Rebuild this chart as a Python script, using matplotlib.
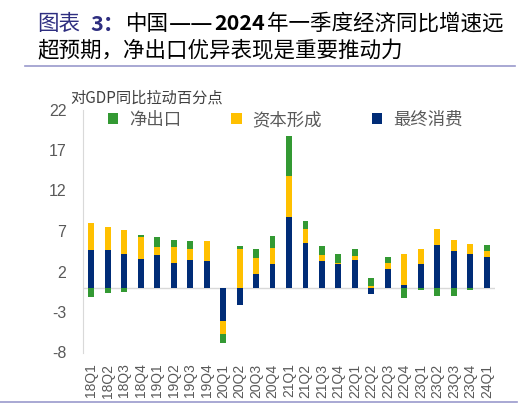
import matplotlib
matplotlib.use("Agg")
import matplotlib.pyplot as plt
from matplotlib.patches import Patch
import numpy as np

plt.rcParams['font.family'] = ['Noto Sans CJK SC', 'DejaVu Sans']

quarters = ['18Q1', '18Q2', '18Q3', '18Q4', '19Q1', '19Q2', '19Q3', '19Q4',
            '20Q1', '20Q2', '20Q3', '20Q4', '21Q1', '21Q2', '21Q3', '21Q4',
            '22Q1', '22Q2', '22Q3', '22Q4', '23Q1', '23Q2', '23Q3', '23Q4', '24Q1']
consumption = [4.65, 4.65, 4.2, 3.6, 4.07, 3.06, 3.4, 3.3,
               -4.07, -2.1, 1.64, 2.88, 8.73, 5.47, 3.29, 2.9,
               3.37, -0.8, 2.35, 0.33, 2.96, 5.3, 4.57, 4.1, 3.83]
capital = [3.33, 2.84, 2.96, 2.7, 0.95, 1.98, 1.36, 2.47,
           -1.6, 4.8, 2.0, 2.0, 5.1, 1.81, 0.78, 0.12,
           0.58, 0.25, 0.7, 3.83, 1.81, 2.0, 1.32, 1.28, 0.7]
net_export = [-1.15, -0.62, -0.53, 0.15, 1.23, 0.91, 1.02, 0.05,
              -1.2, 0.37, 1.15, 1.52, 4.94, 0.99, 1.1, 1.2,
              0.82, 0.95, 0.77, -1.27, -0.33, -1.07, -0.99, -0.25, 0.77]
yticks = [-8, -3, 2, 7, 12, 17, 22]
series_names = ['净出口', '资本形成', '最终消费']

c_blue = '#002C77'
c_yellow = '#FFC000'
c_green = '#339933'

W, H = 524, 407
fig = plt.figure(figsize=(W / 100, H / 100), dpi=100)
ax = fig.add_axes([83 / W, 1 - 352.5 / H, (495 - 83) / W, (352.5 - 109.5) / H])

x = np.arange(len(quarters))
cons = np.array(consumption)
cap = np.array(capital)
nx = np.array(net_export)
vals = [cons, cap, nx]
colors = [c_blue, c_yellow, c_green]
pos_base = np.zeros(len(x))
neg_base = np.zeros(len(x))
bw = 0.36
for v, c in zip(vals, colors):
    bottom = np.where(v >= 0, pos_base, neg_base)
    ax.bar(x, v, bw, bottom=bottom, color=c, edgecolor='none', zorder=3)
    pos_base = pos_base + np.where(v >= 0, v, 0)
    neg_base = neg_base + np.where(v < 0, v, 0)

ax.axhline(0, color='#D9D9D9', lw=1.0, zorder=2)
ax.set_xlim(-0.5, 24.5)
ax.set_ylim(-8, 22)
ax.set_yticks(yticks)
ax.set_yticklabels([str(t) for t in yticks], fontfamily=['Liberation Sans'])
ax.set_xticks(x)
ax.set_xticklabels(quarters, rotation=90, fontfamily=['Liberation Sans'])
for s in ['top', 'right', 'bottom']:
    ax.spines[s].set_visible(False)
ax.spines['left'].set_color('#D9D9D9')
ax.tick_params(axis='y', length=0, pad=12, labelsize=11.5, labelcolor='#595959')
ax.tick_params(axis='x', length=0, pad=8, labelsize=10, labelcolor='#595959')

handles = [Patch(facecolor=c_green), Patch(facecolor=c_yellow), Patch(facecolor=c_blue)]
fig.legend(handles, series_names, loc='center left', bbox_to_anchor=(108 / W, 1 - 120 / H),
           ncol=3, frameon=False, fontsize=12.5, labelcolor='#595959',
           handlelength=0.6, handleheight=0.6, handletextpad=0.6, columnspacing=2.9,
           borderpad=0, borderaxespad=0)

fig.text(70 / W, 1 - 98 / H, '对GDP同比拉动百分点', fontsize=11, color='#404040',
         ha='left', va='center')

# title (segments placed to match reference spacing)
ty1 = 1 - 24 / H
ty2 = 1 - 51 / H
fs = 15.5
fig.text(37 / W, ty1, '图表', fontsize=fs, color='#2E2E80', ha='left', va='center')
fig.text(90 / W, ty1, '3：', fontsize=fs, color='#2E2E80', ha='left', va='center',
         fontweight='bold')
fig.text(126 / W, ty1, '中国', fontsize=fs, color='black', ha='left', va='center')
fig.text(169 / W, ty1, '——', fontsize=18, color='black', ha='left', va='center')
fig.text(214 / W, ty1, '2024', fontsize=fs, color='black', ha='left', va='center',
         fontweight='bold')
fig.text(267 / W, ty1, '年一季度经济同比增速远', fontsize=fs, color='black', ha='left', va='center')
fig.text(37 / W, ty2, '超预期，净出口优异表现是重要推动力', fontsize=fs, color='black',
         ha='left', va='center')
fig.add_artist(plt.Line2D([25 / W, 515 / W], [1 - 66 / H, 1 - 66 / H], color='#9999CC', lw=1.2))
fig.add_artist(plt.Line2D([0, 517 / W], [1 - 402 / H, 1 - 402 / H], color='#9999CC', lw=1.2))

fig.savefig('out.png', dpi=100)
